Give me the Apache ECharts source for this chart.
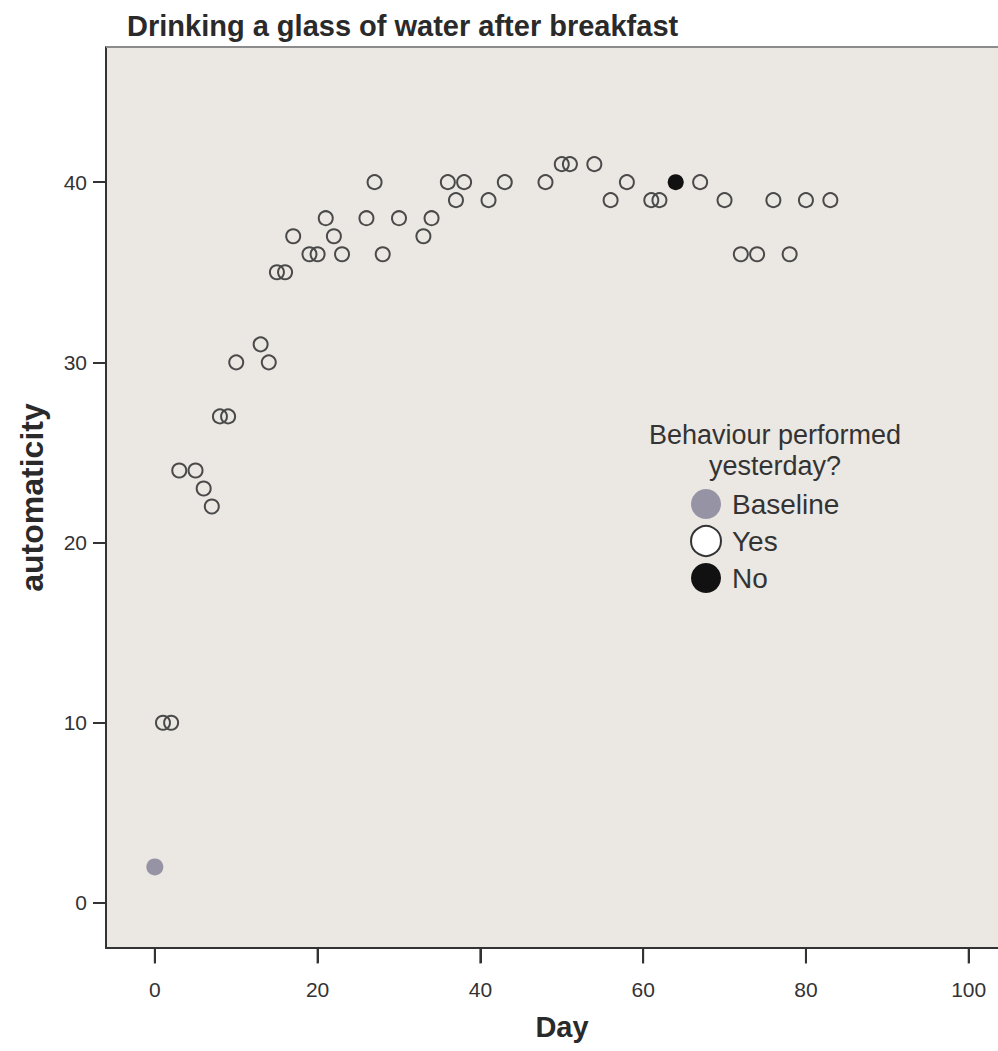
<!DOCTYPE html>
<html>
<head>
<meta charset="utf-8">
<script src="https://cdn.jsdelivr.net/npm/echarts@6/dist/echarts.min.js"></script>
<style>
html,body{margin:0;padding:0;background:#fff;}
#chart{width:998px;height:1051px;}
</style>
</head>
<body>
<div id="chart"></div>
<script>
const chartTitle = 'Drinking a glass of water after breakfast';
const xAxisName = 'Day';
const yAxisName = 'automaticity';
const legendTitle = 'Behaviour performed\nyesterday?';
const xTickLabels = [0, 20, 40, 60, 80, 100];
const yTickLabels = [0, 10, 20, 30, 40];

const baselineDays = [0];
const baselineVals = [2];

const yesDays = [1, 2, 3, 5, 6, 7, 8, 9, 10, 13, 14, 15, 16, 17, 19, 20, 21, 22, 23, 26, 27, 28, 30, 33, 34, 36, 37, 38, 41, 43, 48, 50, 51, 54, 56, 58, 61, 62, 67, 70, 72, 74, 76, 78, 80, 83];
const yesVals = [10, 10, 24, 24, 23, 22, 27, 27, 30, 31, 30, 35, 35, 37, 36, 36, 38, 37, 36, 38, 40, 36, 38, 37, 38, 40, 39, 40, 39, 40, 40, 41, 41, 41, 39, 40, 39, 39, 40, 39, 36, 36, 39, 36, 39, 39];

const noDays = [64];
const noVals = [40];

const pairs = (xs, ys) => xs.map((x, i) => [x, ys[i]]);
const FONT = '"Liberation Sans", Arial, Helvetica, sans-serif';

const GRID = {left: 106, top: 47, bottom: 103};
const X_MIN = -6, X_MAX = 103.6;
const Y_MIN = -2.5, Y_MAX = 47.5;

const chart = echarts.init(document.getElementById('chart'), null, {renderer: 'svg'});
chart.setOption({
  animation: false,
  backgroundColor: '#ffffff',
  title: {
    text: chartTitle,
    left: 122,
    top: 6,
    textStyle: {fontFamily: FONT, fontSize: 29, fontWeight: 'bold', color: '#2a2a2a'}
  },
  grid: {
    left: GRID.left, right: 0, top: GRID.top, bottom: GRID.bottom,
    show: true, backgroundColor: '#ebe7e3', borderWidth: 0
  },
  xAxis: {
    type: 'value', min: X_MIN, max: X_MAX, position: 'bottom',
    name: xAxisName, nameLocation: 'middle', nameGap: 64,
    nameTextStyle: {fontFamily: FONT, fontSize: 29, fontWeight: 'bold', color: '#2a2a2a', padding: [0, 0, 0, 20]},
    axisLine: {show: true, onZero: false, lineStyle: {color: '#333', width: 2}},
    axisTick: {show: true, length: 15, customValues: xTickLabels, lineStyle: {color: '#333', width: 2}},
    axisLabel: {customValues: xTickLabels, margin: 31, fontFamily: FONT, fontSize: 21, color: '#333'},
    splitLine: {show: false}
  },
  yAxis: {
    type: 'value', min: Y_MIN, max: Y_MAX,
    name: yAxisName, nameLocation: 'middle', nameGap: 58, nameRotate: 90,
    nameTextStyle: {fontFamily: FONT, fontSize: 32, fontWeight: 'bold', color: '#2a2a2a'},
    axisLine: {show: true, onZero: false, lineStyle: {color: '#333', width: 2}},
    axisTick: {show: true, length: 13, customValues: yTickLabels, lineStyle: {color: '#333', width: 2}},
    axisLabel: {customValues: yTickLabels, margin: 19, fontFamily: FONT, fontSize: 21, color: '#333'},
    splitLine: {show: false}
  },
  legend: {
    orient: 'vertical',
    left: 685, top: 484,
    itemWidth: 30, itemHeight: 30, itemGap: 6,
    icon: 'circle',
    textStyle: {fontFamily: FONT, fontSize: 28, color: '#333', padding: [0, 0, 0, 6]},
    data: [
      {name: 'Baseline'},
      {name: 'Yes', itemStyle: {color: '#ffffff', borderColor: '#333', borderWidth: 2}},
      {name: 'No'}
    ]
  },
  graphic: [{
    type: 'text',
    x: 775, y: 419,
    style: {text: legendTitle, fontFamily: FONT, fontSize: 27, lineHeight: 31, fill: '#333', align: 'center', verticalAlign: 'top'},
    z: 100
  }, {
    type: 'line',
    shape: {x1: GRID.left, y1: GRID.top, x2: 998, y2: GRID.top},
    style: {stroke: '#8c8c8c', lineWidth: 2},
    z: 50
  }],
  series: [
    {
      name: 'Baseline', type: 'scatter', symbol: 'circle', symbolSize: 17,
      itemStyle: {color: '#9693a5', opacity: 1},
      data: pairs(baselineDays, baselineVals), z: 3
    },
    {
      name: 'Yes', type: 'scatter', symbol: 'circle', symbolSize: 14,
      itemStyle: {color: 'rgba(235,231,227,0)', borderColor: '#4a4a4a', borderWidth: 2, opacity: 1},
      data: pairs(yesDays, yesVals), z: 3
    },
    {
      name: 'No', type: 'scatter', symbol: 'circle', symbolSize: 16,
      itemStyle: {color: '#111111', opacity: 1},
      data: pairs(noDays, noVals), z: 3
    },
    {
      name: 'xTickMarks', type: 'scatter', symbol: 'rect', symbolSize: [2, 15], symbolOffset: [0, 8],
      clip: false, silent: true, tooltip: {show: false},
      itemStyle: {color: '#333333', opacity: 1},
      data: xTickLabels.map(v => [v, Y_MIN]), z: 6
    }
  ]
});
</script>
</body>
</html>
